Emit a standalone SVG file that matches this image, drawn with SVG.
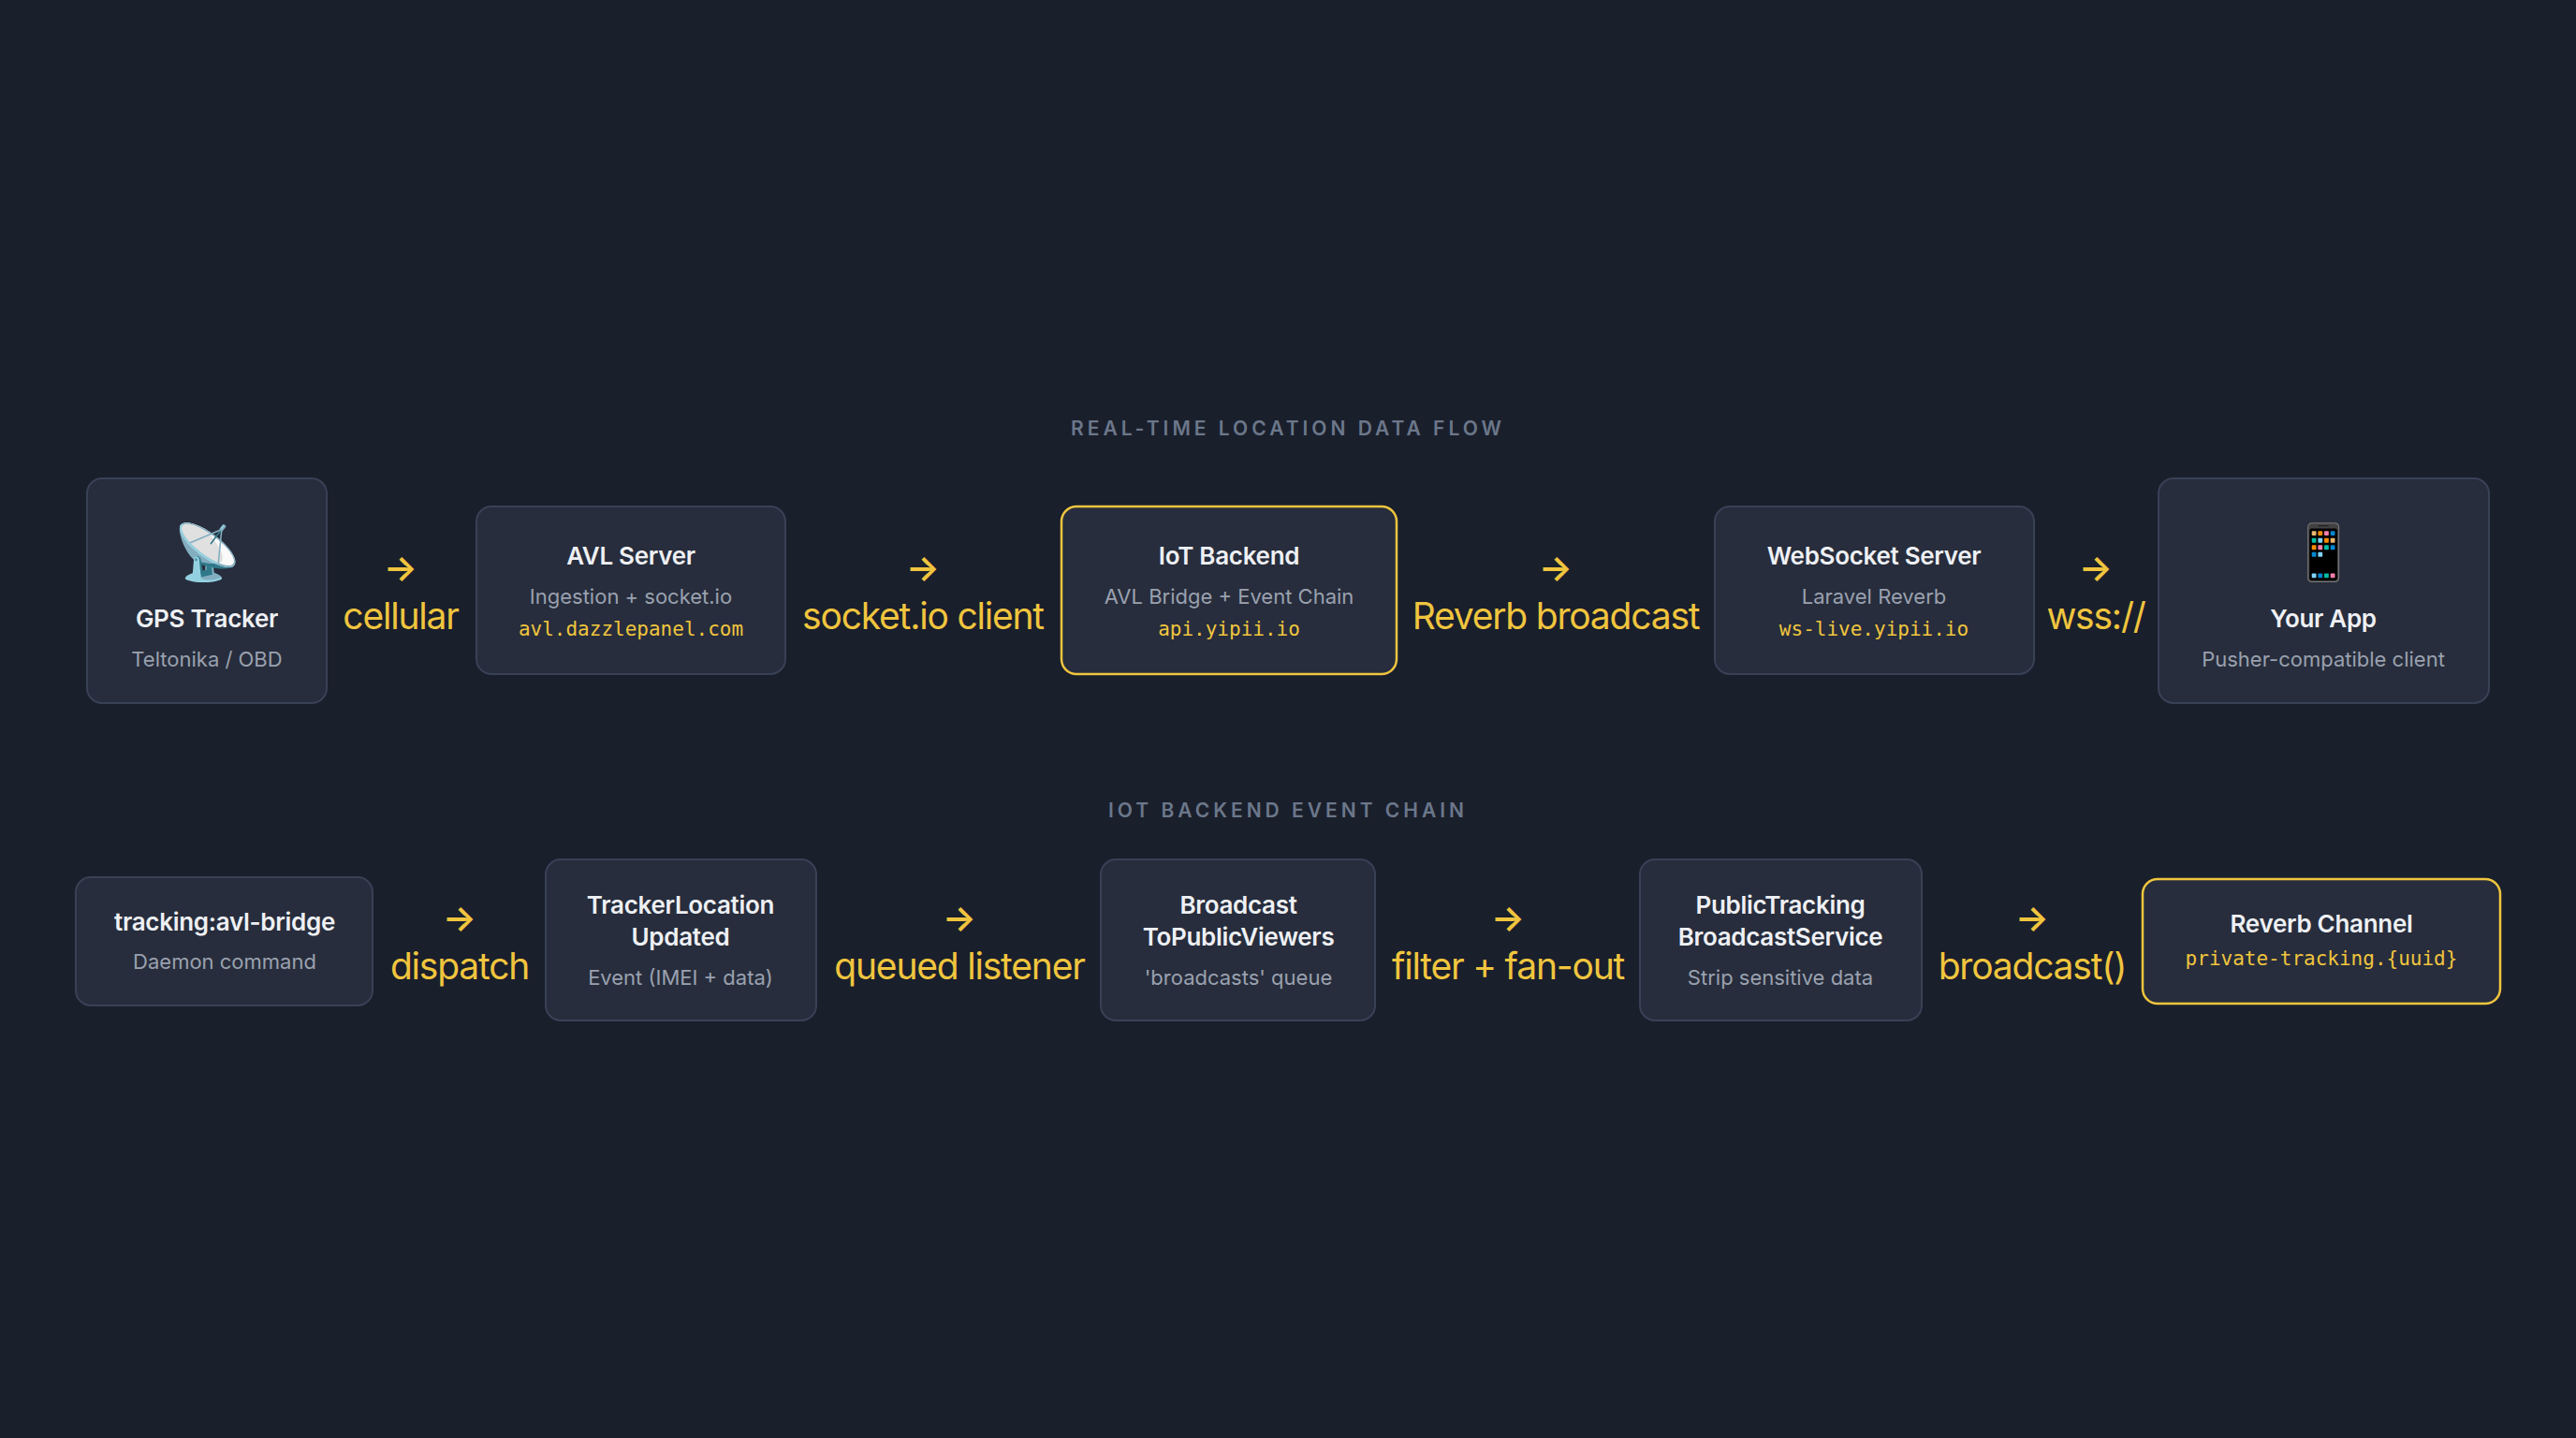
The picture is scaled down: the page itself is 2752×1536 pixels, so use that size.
<svg xmlns="http://www.w3.org/2000/svg" width="2752" height="1536" viewBox="0 0 2752 1536">
<style>
.bg{fill:#1a1f2c}
.n{fill:#272d3c;stroke:#394156;stroke-width:2}
.hl{fill:#272d3c;stroke:#f0c53e;stroke-width:2.5}
.t{font-family:Inter,"Liberation Sans",sans-serif;font-weight:600;font-size:26px;letter-spacing:-0.3px;fill:#eef0f4;text-anchor:middle}
.s{font-family:Inter,"Liberation Sans",sans-serif;font-size:22px;fill:#9aa1af;text-anchor:middle}
.m{font-family:"DejaVu Sans Mono","Liberation Mono",monospace;font-size:21px;fill:#f0c53e;text-anchor:middle}
.h{font-family:Inter,"Liberation Sans",sans-serif;font-weight:600;font-size:21px;letter-spacing:4px;fill:#6b778a;text-anchor:middle}
.l{font-family:Inter,"Liberation Sans",sans-serif;font-size:39px;letter-spacing:-1.2px;fill:#f0c53e;text-anchor:middle}
.a{font-family:Inter,"DejaVu Sans",sans-serif;font-weight:600;font-size:38px;fill:#f0c53e;text-anchor:middle}
.e{font-family:"Noto Color Emoji","DejaVu Sans",sans-serif;font-size:58px;text-anchor:middle}
</style>
<rect class="bg" width="2752" height="1536"/>
<text class="h" x="1376" y="465">REAL-TIME LOCATION DATA FLOW</text>
<text class="h" x="1376" y="873">IOT BACKEND EVENT CHAIN</text>
<g id="gps"><rect class="n" x="93" y="511" width="256" height="240" rx="16"/><text class="e" x="221" y="610">📡</text><text class="t" x="221" y="670">GPS Tracker</text><text class="s" x="221" y="712">Teltonika / OBD</text></g>
<g id="avl"><rect class="n" x="509" y="541" width="330" height="179" rx="16"/><text class="t" x="674" y="603">AVL Server</text><text class="s" x="674" y="645">Ingestion + socket.io</text><text class="m" x="674" y="679">avl.dazzlepanel.com</text></g>
<g id="iot"><rect class="hl" x="1134" y="541" width="358" height="179" rx="16"/><text class="t" x="1313" y="603">IoT Backend</text><text class="s" x="1313" y="645">AVL Bridge + Event Chain</text><text class="m" x="1313" y="679">api.yipii.io</text></g>
<g id="ws"><rect class="n" x="1832" y="541" width="341" height="179" rx="16"/><text class="t" x="2002" y="603">WebSocket Server</text><text class="s" x="2002" y="645">Laravel Reverb</text><text class="m" x="2002" y="679">ws-live.yipii.io</text></g>
<g id="app"><rect class="n" x="2306" y="511" width="353" height="240" rx="16"/><text class="e" x="2482" y="610">📱</text><text class="t" x="2482" y="670">Your App</text><text class="s" x="2482" y="712">Pusher-compatible client</text></g>
<g id="bridge"><rect class="n" x="81" y="937" width="317" height="137" rx="16"/><text class="t" x="240" y="994">tracking:avl-bridge</text><text class="s" x="240" y="1035">Daemon command</text></g>
<g id="tlu"><rect class="n" x="583" y="918" width="289" height="172" rx="16"/><text class="t" x="727" y="976">TrackerLocation</text><text class="t" x="727" y="1010">Updated</text><text class="s" x="727" y="1052">Event (IMEI + data)</text></g>
<g id="btpv"><rect class="n" x="1176" y="918" width="293" height="172" rx="16"/><text class="t" x="1323" y="976">Broadcast</text><text class="t" x="1323" y="1010">ToPublicViewers</text><text class="s" x="1323" y="1052">'broadcasts' queue</text></g>
<g id="ptbs"><rect class="n" x="1752" y="918" width="301" height="172" rx="16"/><text class="t" x="1902" y="976">PublicTracking</text><text class="t" x="1902" y="1010">BroadcastService</text><text class="s" x="1902" y="1052">Strip sensitive data</text></g>
<g id="chan"><rect class="hl" x="2289" y="939" width="382" height="133" rx="16"/><text class="t" x="2480" y="996">Reverb Channel</text><text class="m" x="2480" y="1031">private-tracking.{uuid}</text></g>
<g id="connectors">
<text class="a" x="428" y="620">→</text><text class="l" x="428" y="672">cellular</text>
<text class="a" x="986" y="620">→</text><text class="l" x="986" y="672">socket.io client</text>
<text class="a" x="1662" y="620">→</text><text class="l" x="1662" y="672">Reverb broadcast</text>
<text class="a" x="2239" y="620">→</text><text class="l" x="2239" y="672">wss://</text>
<text class="a" x="491" y="994">→</text><text class="l" x="491" y="1046">dispatch</text>
<text class="a" x="1025" y="994">→</text><text class="l" x="1025" y="1046">queued listener</text>
<text class="a" x="1611" y="994">→</text><text class="l" x="1611" y="1046">filter + fan-out</text>
<text class="a" x="2171" y="994">→</text><text class="l" x="2171" y="1046">broadcast()</text>
</g>
</svg>
